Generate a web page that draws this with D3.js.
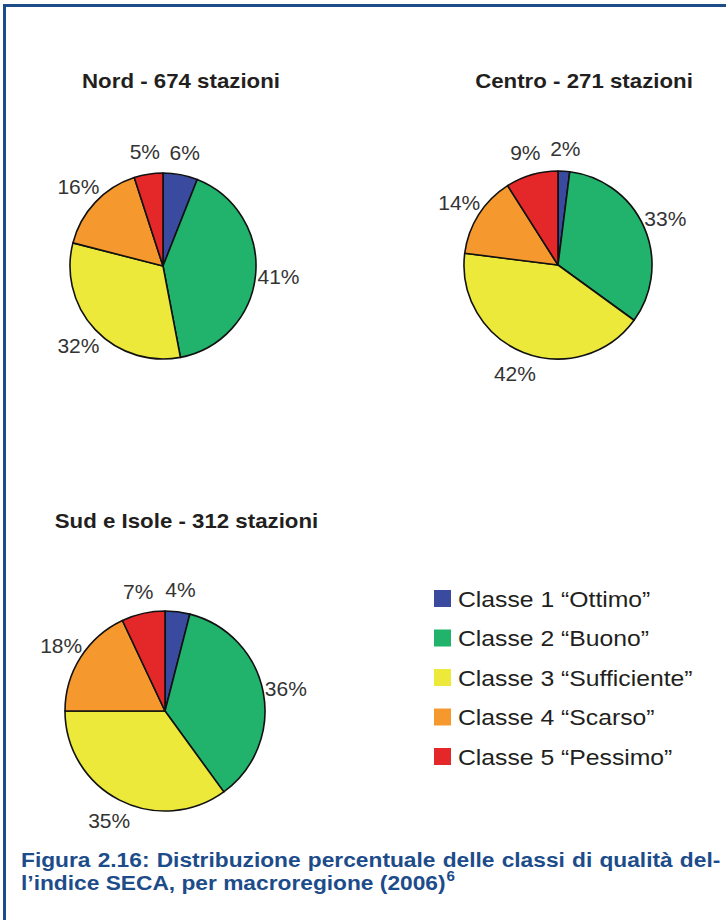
<!DOCTYPE html>
<html>
<head>
<meta charset="utf-8">
<script src="https://cdn.jsdelivr.net/npm/d3@7"></script>
<style>
  body { margin: 0; background: #fff; }
  svg { display: block; }
</style>
</head>
<body>
<svg id="chart"></svg>
<script>
const classes = ['Classe 1 “Ottimo”', 'Classe 2 “Buono”', 'Classe 3 “Sufficiente”', 'Classe 4 “Scarso”', 'Classe 5 “Pessimo”']
const colors = ['#3a4b9f', '#21b26b', '#ece93b', '#f5992f', '#e4282a']

const regions = ['Nord - 674 stazioni', 'Centro - 271 stazioni', 'Sud e Isole - 312 stazioni']
const nord = [6, 41, 32, 16, 5]
const centro = [2, 33, 42, 14, 9]
const sud = [4, 36, 35, 18, 7]

let width = 726
let height = 920
let svg = d3.select('#chart')
  .attr('width', width)
  .attr('height', height)

// the original uses a wider Helvetica, so stretch text horizontally a bit
function stretch(sel, k) {
  sel.each(function () {
    let w = this.getComputedTextLength()
    d3.select(this)
      .attr('textLength', w * k)
      .attr('lengthAdjust', 'spacingAndGlyphs')
  })
}

// blue frame (right and bottom edges run off the page)
svg.append('rect')
  .attr('x', 4.5).attr('y', 5.5)
  .attr('width', width + 20).attr('height', height + 20)
  .attr('fill', 'none')
  .attr('stroke', '#1d4c8a')
  .attr('stroke-width', 3)

// layout of the three pies
let panels = [
  { title: regions[0], values: nord, cx: 163, cy: 266, r: 93, tx: 181, ty: 88 },
  { title: regions[1], values: centro, cx: 558, cy: 265, r: 94, tx: 584, ty: 88 },
  { title: regions[2], values: sud, cx: 165, cy: 711, r: 100, tx: 186.5, ty: 528 }
]

let pie = d3.pie().sort(null).value(d => d)

panels.forEach(p => {
  let g = svg.append('g')
    .attr('transform', `translate(${p.cx}, ${p.cy})`)

  let arc = d3.arc().innerRadius(0).outerRadius(p.r)
  let labelArc = d3.arc().innerRadius(p.r + 23).outerRadius(p.r + 23)
  let data_ready = pie(p.values)

  g.selectAll('path')
    .data(data_ready)
    .enter()
    .append('path')
    .attr('d', arc)
    .attr('fill', (d, i) => colors[i])
    .attr('stroke', '#111')
    .style('stroke-width', '1.6px')
    .style('stroke-linejoin', 'round')

  g.selectAll('text')
    .data(data_ready)
    .enter()
    .append('text')
    .text(d => d.data + '%')
    .attr('transform', d => 'translate(' + labelArc.centroid(d) + ')')
    .attr('dy', '0.36em')
    .style('text-anchor', 'middle')
    .style('font-family', '"Liberation Sans", Arial, sans-serif')
    .style('font-size', '21px')
    .style('fill', '#333')

  svg.append('text')
    .attr('x', p.tx).attr('y', p.ty)
    .text(p.title)
    .style('text-anchor', 'middle')
    .style('font-family', '"Liberation Sans", Arial, sans-serif')
    .style('font-weight', 'bold')
    .style('font-size', '21px')
    .style('fill', '#231f20')
    .call(stretch, 1.06)
})

// legend
let legend = svg.append('g').attr('transform', 'translate(434, 590)')
let rows = legend.selectAll('g')
  .data(classes)
  .enter()
  .append('g')
  .attr('transform', (d, i) => `translate(0, ${i * 39.5})`)

rows.append('rect')
  .attr('width', 17).attr('height', 17)
  .attr('fill', (d, i) => colors[i])

rows.append('text')
  .attr('x', 24).attr('y', 16.5)
  .text(d => d)
  .style('font-family', '"Liberation Sans", Arial, sans-serif')
  .style('font-size', '21.5px')
  .style('fill', '#231f20')
  .call(stretch, 1.15)

// caption: bold, first line justified to the right edge
let cap = svg.append('g')
  .style('font-family', '"Liberation Sans", Arial, sans-serif')
  .style('font-weight', 'bold')
  .style('font-size', '21px')
  .style('fill', '#1d4c8a')

let line2 = cap.append('text')
  .attr('x', 0).attr('y', 890)
let main2 = line2.append('tspan').text('l’indice SECA, per macroregione (2006)')
let k = 425 / main2.node().getComputedTextLength()
line2.append('tspan')
  .attr('dx', 1).attr('dy', -9)
  .style('font-size', '14px')
  .text('6')

let line1 = cap.append('text')
  .attr('x', 0).attr('y', 867)
  .text('Figura 2.16: Distribuzione percentuale delle classi di qualità del-')
let w1 = line1.node().getComputedTextLength()
let spaces = line1.text().split(' ').length - 1
line1.style('word-spacing', ((700 / k - w1) / spaces) + 'px')

cap.attr('transform', `translate(21, 0) scale(${k}, 1)`)
</script>
</body>
</html>
